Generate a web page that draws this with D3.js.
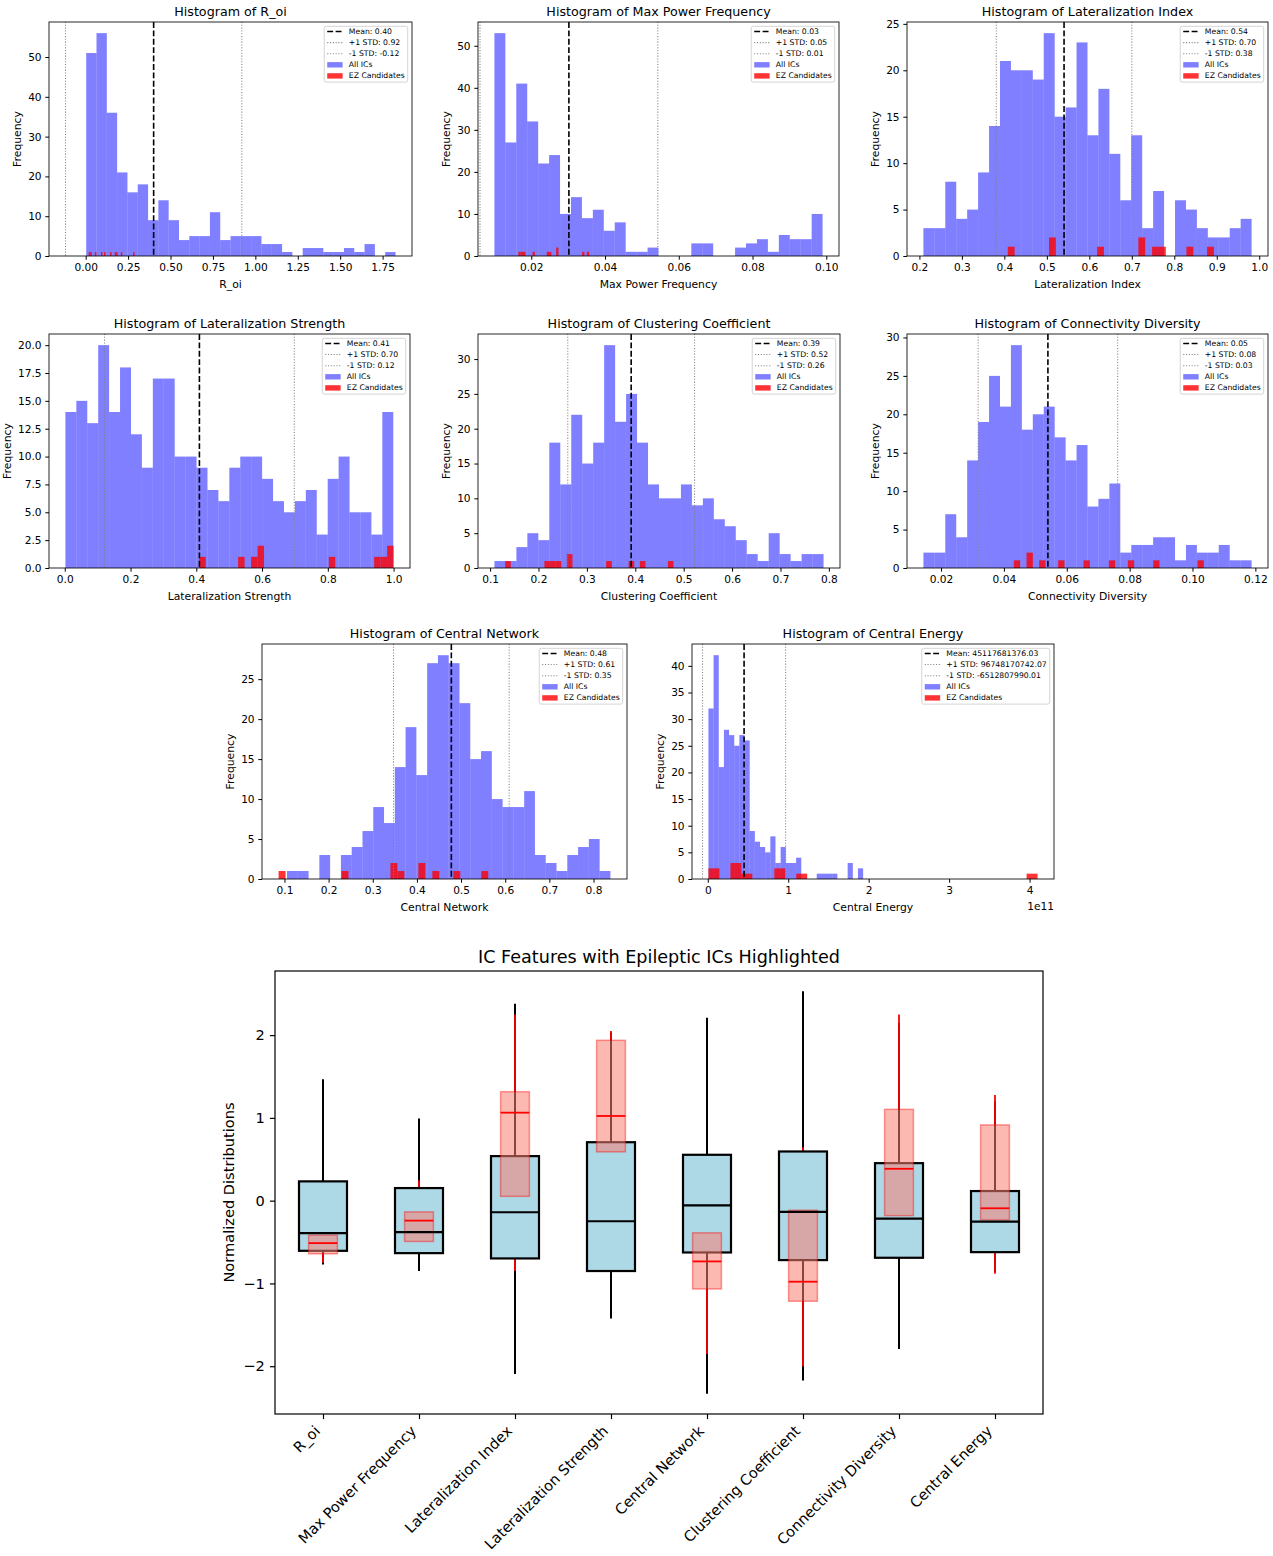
<!DOCTYPE html>
<html>
<head>
<meta charset="utf-8">
<script src="https://d3js.org/d3.v7.min.js"></script>
<style>
body { margin: 0; background: #fff; }
svg text { font-family: "DejaVu Sans", sans-serif; }
</style>
</head>
<body>
<div id="root"></div>
<script>
//DATA - histograms (30 bins over range for all ICs, EZ candidate values binned separately)
const roiRange = [0.003, 1.826];
const roiCounts = [51, 56, 36, 21, 16, 18, 9, 14, 9, 4, 5, 5, 11, 4, 5, 5, 5, 3, 3, 1, 0, 2, 2, 1, 1, 2, 1, 3, 0, 1];
const roiEZ = [0.018, 0.034, 0.054, 0.093, 0.113, 0.152, 0.176, 0.188, 0.215, 0.288];
const roiStats = [0.4005, 0.5195];
const roiXTicks = [0, 0.25, 0.5, 0.75, 1, 1.25, 1.5, 1.75];
const roiYTicks = [0, 10, 20, 30, 40, 50];

const mpfRange = [0.0100, 0.0990];
const mpfCounts = [53, 27, 41, 32, 22, 24, 10, 14, 9, 11, 6, 8, 1, 1, 2, 0, 0, 0, 3, 3, 0, 0, 2, 3, 4, 1, 5, 4, 4, 10];
const mpfEZ = [0.0165, 0.0174, 0.0183, 0.0204, 0.0243, 0.0249, 0.0270, 0.0270, 0.0343, 0.0357];
const mpfStats = [0.0302, 0.0241];
const mpfXTicks = [0.02, 0.04, 0.06, 0.08, 0.10];
const mpfYTicks = [0, 10, 20, 30, 40, 50];

const liRange = [0.2094, 0.982];
const liCounts = [3, 3, 8, 4, 5, 9, 14, 21, 20, 20, 19, 24, 15, 16, 23, 13, 18, 11, 6, 13, 3, 7, 0, 6, 5, 3, 2, 2, 3, 4];
const liEZ = [0.408, 0.5132, 0.5132, 0.6264, 0.7155, 0.7155, 0.7478, 0.764, 0.8287, 0.8933];
const liStats = [0.5405, 0.1595];
const liXTicks = [0.2, 0.3, 0.4, 0.5, 0.6, 0.7, 0.8, 0.9, 1.0];
const liYTicks = [0, 5, 10, 15, 20, 25];

const lsRange = [0.002, 0.999];
const lsCounts = [14, 15, 13, 20, 14, 18, 12, 9, 17, 17, 10, 10, 9, 7, 6, 9, 10, 10, 8, 6, 5, 6, 7, 3, 8, 10, 5, 5, 3, 14];
const lsEZ = [0.409, 0.5371, 0.5765, 0.5962, 0.5962, 0.8130, 0.9469, 0.9667, 0.9864, 1.0];
const lsStats = [0.4095, 0.2885];
const lsXTicks = [0, 0.2, 0.4, 0.6, 0.8, 1.0];
const lsYTicks = [0, 2.5, 5, 7.5, 10, 12.5, 15, 17.5, 20];

const ccRange = [0.109, 0.789];
const ccCounts = [1, 1, 3, 5, 4, 18, 12, 22, 15, 18, 32, 21, 25, 18, 12, 10, 10, 12, 9, 10, 7, 6, 4, 2, 1, 5, 2, 1, 2, 2];
const ccEZ = [0.131, 0.218, 0.2292, 0.2408, 0.264, 0.264, 0.3458, 0.3924, 0.4152, 0.479];
const ccStats = [0.3915, 0.1310];
const ccXTicks = [0.1, 0.2, 0.3, 0.4, 0.5, 0.6, 0.7, 0.8];
const ccYTicks = [0, 5, 10, 15, 20, 25, 30];

const cdRange = [0.01439, 0.1188];
const cdCounts = [2, 2, 7, 4, 14, 19, 25, 21, 29, 18, 20, 21, 17, 14, 16, 8, 9, 11, 2, 3, 3, 4, 4, 1, 3, 2, 2, 3, 1, 1];
const cdEZ = [0.04317, 0.04821, 0.04821, 0.05223, 0.05828, 0.06633, 0.07439, 0.08043, 0.08848, 0.1036];
const cdStats = [0.0540, 0.0222];
const cdXTicks = [0.02, 0.04, 0.06, 0.08, 0.10, 0.12];
const cdYTicks = [0, 5, 10, 15, 20, 25, 30];

const cnRange = [0.1058, 0.8383];
const cnCounts = [1, 1, 0, 3, 0, 3, 4, 6, 9, 7, 14, 19, 13, 27, 28, 27, 22, 15, 16, 10, 9, 9, 11, 3, 2, 1, 3, 4, 5, 1];
const cnEZ = [0.0867, 0.2371, 0.3479, 0.3479, 0.3637, 0.4112, 0.4112, 0.4429, 0.4904, 0.5616];
const cnStats = [0.478, 0.131];
const cnXTicks = [0.1, 0.2, 0.3, 0.4, 0.5, 0.6, 0.7, 0.8];
const cnYTicks = [0, 5, 10, 15, 20, 25];

const ceRange = [8.3e8, 1.931e11];
const ceCounts = [32, 42, 21, 28, 27, 25, 27, 26, 9, 7, 6, 5, 8, 3, 6, 3, 3, 4, 0, 0, 0, 1, 1, 1, 1, 0, 0, 3, 0, 2];
const ceEZ = [8.3e8, 7.65e9, 3.492e10, 3.492e10, 3.492e10, 4.856e10, 8.947e10, 8.947e10, 1.1674e11, 4.099e11];
const ceStats = [45117681376.03, 51630489366.04];
const ceXTicks = [0, 1e11, 2e11, 3e11, 4e11];
const ceYTicks = [0, 5, 10, 15, 20, 25, 30, 35, 40];

//DATA - normalized box plot: [whisker low, q1, median, q3, whisker high]
const boxFeatures = ["R_oi", "Max Power Frequency", "Lateralization Index", "Lateralization Strength",
  "Central Network", "Clustering Coefficient", "Connectivity Diversity", "Central Energy"];
const allBoxStats = [
  [-0.77, -0.606, -0.393, 0.233, 1.468],
  [-0.850, -0.634, -0.381, 0.152, 0.991],
  [-2.094, -0.698, -0.140, 0.538, 2.379],
  [-1.424, -0.850, -0.249, 0.706, 2.03],
  [-2.334, -0.626, -0.056, 0.554, 2.210],
  [-2.174, -0.718, -0.136, 0.594, 2.531],
  [-1.793, -0.690, -0.217, 0.453, 2.15],
  [-0.86, -0.622, -0.253, 0.116, 1.2]
];
const ezBoxStats = [
  [-0.75, -0.642, -0.513, -0.417, -0.41],
  [-0.50, -0.493, -0.241, -0.136, 0.245],
  [-0.85, 0.052, 1.063, 1.316, 2.25],
  [0.03, 0.590, 1.023, 1.937, 2.05],
  [-1.853, -1.067, -0.734, -0.389, 0.55],
  [-2.002, -1.215, -0.979, -0.116, 0.646],
  [-0.49, -0.181, 0.385, 1.103, 2.25],
  [-0.882, -0.233, -0.092, 0.915, 1.276]
];
const boxYTicks = [-2, -1, 0, 1, 2];

//TABLE OF HISTOGRAMS
const f2 = d3.format(".2f"), f1 = d3.format(".1f"), fd = d3.format("d");
const hists = [
  {name: "R_oi", range: roiRange, counts: roiCounts, ez: roiEZ, stats: roiStats, xTicks: roiXTicks, yTicks: roiYTicks, xFmt: f2, yFmt: fd},
  {name: "Max Power Frequency", range: mpfRange, counts: mpfCounts, ez: mpfEZ, stats: mpfStats, xTicks: mpfXTicks, yTicks: mpfYTicks, xFmt: f2, yFmt: fd},
  {name: "Lateralization Index", range: liRange, counts: liCounts, ez: liEZ, stats: liStats, xTicks: liXTicks, yTicks: liYTicks, xFmt: f1, yFmt: fd},
  {name: "Lateralization Strength", range: lsRange, counts: lsCounts, ez: lsEZ, stats: lsStats, xTicks: lsXTicks, yTicks: lsYTicks, xFmt: f1, yFmt: f1},
  {name: "Clustering Coefficient", range: ccRange, counts: ccCounts, ez: ccEZ, stats: ccStats, xTicks: ccXTicks, yTicks: ccYTicks, xFmt: f1, yFmt: fd},
  {name: "Connectivity Diversity", range: cdRange, counts: cdCounts, ez: cdEZ, stats: cdStats, xTicks: cdXTicks, yTicks: cdYTicks, xFmt: f2, yFmt: fd},
  {name: "Central Network", range: cnRange, counts: cnCounts, ez: cnEZ, stats: cnStats, xTicks: cnXTicks, yTicks: cnYTicks, xFmt: f1, yFmt: fd},
  {name: "Central Energy", range: ceRange, counts: ceCounts, ez: ceEZ, stats: ceStats, xTicks: ceXTicks, yTicks: ceYTicks, xFmt: d => fd(d / 1e11), yFmt: fd, offset: "1e11"}
];

//LAYOUT
const panels = [
  {left: 49, top: 22, w: 363, h: 234},
  {left: 478, top: 22, w: 361, h: 234},
  {left: 907, top: 22, w: 361, h: 234},
  {left: 49, top: 334, w: 361, h: 234},
  {left: 478, top: 334, w: 362, h: 234},
  {left: 907, top: 334, w: 361, h: 234},
  {left: 262, top: 644, w: 365, h: 235},
  {left: 692, top: 644, w: 362, h: 235}
];

const svg = d3.select("#root").append("svg")
  .attr("width", 1273).attr("height", 1556);

const pad5 = (a, b) => [a - (b - a) * 0.05, b + (b - a) * 0.05];

function styleAxis(g, size) {
  g.attr("font-family", "DejaVu Sans").attr("font-size", size);
  g.select(".domain").remove();
  g.selectAll(".tick line").attr("stroke", "#000");
  g.selectAll(".tick text").attr("fill", "#000");
}

function drawHist(h, p) {
  const g = svg.append("g").attr("transform", `translate(${p.left},${p.top})`);
  const [lo, hi] = h.range;
  const step = (hi - lo) / h.counts.length;
  const bars = h.counts.map((n, i) => ({x0: lo + i * step, x1: lo + (i + 1) * step, n: n}));
  const ezExt = d3.extent(h.ez);
  const ezStep = (ezExt[1] - ezExt[0]) / 30;
  const ezBins = d3.bin().domain(ezExt)
    .thresholds(d3.range(1, 30).map(i => ezExt[0] + i * ezStep))(h.ez)
    .filter(b => b.length > 0);
  const [mean, std] = h.stats;
  const vlines = [mean, mean + std, mean - std];

  // autoscale like matplotlib: bars with 5% margin, vlines rescale only if outside
  const dLo = Math.min(lo, ezExt[0]), dHi = Math.max(hi, ezExt[1]);
  let xDom = pad5(dLo, dHi);
  if (vlines.some(v => v < xDom[0] || v > xDom[1])) {
    xDom = pad5(Math.min(dLo, ...vlines), Math.max(dHi, ...vlines));
  }
  const x = d3.scaleLinear().domain(xDom).range([0, p.w]);
  const y = d3.scaleLinear().domain([0, d3.max(h.counts) * 1.05]).range([p.h, 0]);

  g.append("defs").append("clipPath").attr("id", "clip" + p.left + "_" + p.top)
    .append("rect").attr("width", p.w).attr("height", p.h);
  const plot = g.append("g").attr("clip-path", `url(#clip${p.left}_${p.top})`);

  plot.selectAll("rect.all").data(bars.filter(b => b.n > 0)).join("rect")
    .attr("class", "all")
    .attr("x", d => x(d.x0)).attr("width", d => x(d.x1) - x(d.x0))
    .attr("y", d => y(d.n)).attr("height", d => p.h - y(d.n))
    .attr("fill", "blue").attr("fill-opacity", 0.5);

  plot.selectAll("rect.ez").data(ezBins).join("rect")
    .attr("class", "ez")
    .attr("x", d => x(d.x0)).attr("width", d => x(d.x1) - x(d.x0))
    .attr("y", d => y(d.length)).attr("height", d => p.h - y(d.length))
    .attr("fill", "red").attr("fill-opacity", 0.8);

  // mean and std lines
  plot.append("line").attr("x1", x(mean)).attr("x2", x(mean)).attr("y1", 0).attr("y2", p.h)
    .attr("stroke", "#000").attr("stroke-width", 1.6).attr("stroke-dasharray", "5.9,2.5");
  [mean + std, mean - std].forEach(v => {
    plot.append("line").attr("x1", x(v)).attr("x2", x(v)).attr("y1", 0).attr("y2", p.h)
      .attr("stroke", "#808080").attr("stroke-width", 1.05).attr("stroke-dasharray", "1.05,1.75");
  });

  // axes
  const xa = g.append("g").attr("transform", `translate(0,${p.h})`)
    .call(d3.axisBottom(x).tickValues(h.xTicks).tickFormat(h.xFmt).tickSize(3.7).tickPadding(3.7));
  styleAxis(xa, 10.6);
  const ya = g.append("g")
    .call(d3.axisLeft(y).tickValues(h.yTicks).tickFormat(h.yFmt).tickSize(3.7).tickPadding(3.7));
  styleAxis(ya, 10.6);
  let maxW = 0;
  ya.selectAll(".tick text").each(function() { maxW = Math.max(maxW, this.getComputedTextLength()); });

  g.append("rect").attr("width", p.w).attr("height", p.h)
    .attr("fill", "none").attr("stroke", "#000").attr("stroke-width", 0.85);

  // labels
  g.append("text").attr("x", p.w / 2).attr("y", -6.5).attr("text-anchor", "middle")
    .attr("font-size", 12.7).text("Histogram of " + h.name);
  g.append("text").attr("x", p.w / 2).attr("y", p.h + 32).attr("text-anchor", "middle")
    .attr("font-size", 10.8).text(h.name);
  const yl = -(7.4 + maxW + 4.2 + 6.3);
  g.append("text").attr("transform", `translate(${yl},${p.h / 2}) rotate(-90)`)
    .attr("text-anchor", "middle").attr("dominant-baseline", "central")
    .attr("font-size", 10.8).text("Frequency");
  if (h.offset) {
    g.append("text").attr("x", p.w).attr("y", p.h + 31).attr("text-anchor", "end")
      .attr("font-size", 10.6).text(h.offset);
  }

  // legend
  const items = [
    {label: `Mean: ${mean.toFixed(2)}`, kind: "dash"},
    {label: `+1 STD: ${(mean + std).toFixed(2)}`, kind: "dot"},
    {label: `-1 STD: ${(mean - std).toFixed(2)}`, kind: "dot"},
    {label: "All ICs", kind: "patch", color: "blue", op: 0.5},
    {label: "EZ Candidates", kind: "patch", color: "red", op: 0.8}
  ];
  const fs = 7.7, handle = 15.4, bp = 3, rowH = 11.1;
  const lg = g.append("g");
  const frame = lg.append("rect");
  let tw = 0;
  items.forEach((it, i) => {
    const cy = 5.2 + i * rowH;
    const t = lg.append("text").attr("x", bp + handle + 6.2).attr("y", cy)
      .attr("dominant-baseline", "central").attr("font-size", fs).text(it.label);
    tw = Math.max(tw, t.node().getComputedTextLength());
    if (it.kind === "patch") {
      lg.append("rect").attr("x", bp).attr("y", cy - 2.7).attr("width", handle).attr("height", 5.4)
        .attr("fill", it.color).attr("fill-opacity", it.op);
    } else {
      lg.append("line").attr("x1", bp).attr("x2", bp + handle).attr("y1", cy).attr("y2", cy)
        .attr("stroke", it.kind === "dash" ? "#000" : "#808080")
        .attr("stroke-width", it.kind === "dash" ? 1.6 : 1.05)
        .attr("stroke-dasharray", it.kind === "dash" ? "5.9,2.5" : "1.05,1.75");
    }
  });
  const bw = bp + handle + 6.2 + tw + bp;
  const bh = 5.2 + 4 * rowH + 6.2;
  frame.attr("width", bw).attr("height", bh).attr("rx", 2)
    .attr("fill", "#fff").attr("fill-opacity", 0.8).attr("stroke", "#ccc").attr("stroke-width", 0.85);
  lg.attr("transform", `translate(${p.w - 4.3 - bw},4.3)`);
}

hists.forEach((h, i) => drawHist(h, panels[i]));

//BOX PLOT
const bp = {left: 275, top: 971, right: 1043, bottom: 1414};
const bx = d3.scaleLinear().domain([0.5, boxFeatures.length + 0.5]).range([bp.left, bp.right]);
const yExt = d3.extent(allBoxStats.flat().concat(ezBoxStats.flat()));
const by = d3.scaleLinear().domain(pad5(yExt[0], yExt[1])).range([bp.bottom, bp.top]);
const boxG = svg.append("g");
const pos = (i) => bx(i + 1);

// whiskers: blue set then red set
allBoxStats.forEach((s, i) => {
  [[s[1], s[0]], [s[3], s[4]]].forEach(([a, b]) => {
    boxG.append("line").attr("x1", pos(i)).attr("x2", pos(i)).attr("y1", by(a)).attr("y2", by(b))
      .attr("stroke", "#000").attr("stroke-width", 2);
  });
});
ezBoxStats.forEach((s, i) => {
  [[s[1], s[0]], [s[3], s[4]]].forEach(([a, b]) => {
    boxG.append("line").attr("x1", pos(i)).attr("x2", pos(i)).attr("y1", by(a)).attr("y2", by(b))
      .attr("stroke", "red").attr("stroke-width", 1.8);
  });
});
// boxes
const bwAll = bx(1.25) - bx(0.75), bwEz = bx(1.15) - bx(0.85);
allBoxStats.forEach((s, i) => {
  boxG.append("rect").attr("x", pos(i) - bwAll / 2).attr("width", bwAll)
    .attr("y", by(s[3])).attr("height", by(s[1]) - by(s[3]))
    .attr("fill", "lightblue").attr("stroke", "#000").attr("stroke-width", 2.2);
});
ezBoxStats.forEach((s, i) => {
  boxG.append("rect").attr("x", pos(i) - bwEz / 2).attr("width", bwEz)
    .attr("y", by(s[3])).attr("height", by(s[1]) - by(s[3]))
    .attr("fill", "salmon").attr("fill-opacity", 0.55)
    .attr("stroke", "red").attr("stroke-opacity", 0.4).attr("stroke-width", 1.5);
});
// medians
allBoxStats.forEach((s, i) => {
  boxG.append("line").attr("x1", pos(i) - bwAll / 2).attr("x2", pos(i) + bwAll / 2)
    .attr("y1", by(s[2])).attr("y2", by(s[2])).attr("stroke", "#000").attr("stroke-width", 2.2);
});
ezBoxStats.forEach((s, i) => {
  boxG.append("line").attr("x1", pos(i) - bwEz / 2).attr("x2", pos(i) + bwEz / 2)
    .attr("y1", by(s[2])).attr("y2", by(s[2])).attr("stroke", "red").attr("stroke-width", 1.8);
});

// axes
const bxa = svg.append("g").attr("transform", `translate(0,${bp.bottom})`)
  .call(d3.axisBottom(bx).tickValues(d3.range(1, boxFeatures.length + 1))
    .tickFormat((d, i) => boxFeatures[i]).tickSize(5.1));
styleAxis(bxa, 14.6);
bxa.selectAll(".tick line").attr("stroke-width", 1.2);
bxa.selectAll(".tick text").attr("x", 0).attr("y", 0).attr("dy", null)
  .attr("text-anchor", "end").attr("transform", "translate(-2.5,18) rotate(-45)");

const bya = svg.append("g").attr("transform", `translate(${bp.left},0)`)
  .call(d3.axisLeft(by).tickValues(boxYTicks).tickFormat(d3.format("d")).tickSize(5.1).tickPadding(5.1));
styleAxis(bya, 14.6);
bya.selectAll(".tick line").attr("stroke-width", 1.2);

svg.append("rect").attr("x", bp.left).attr("y", bp.top)
  .attr("width", bp.right - bp.left).attr("height", bp.bottom - bp.top)
  .attr("fill", "none").attr("stroke", "#000").attr("stroke-width", 1.2);

svg.append("text").attr("x", (bp.left + bp.right) / 2).attr("y", 963).attr("text-anchor", "middle")
  .attr("font-size", 17.6).text("IC Features with Epileptic ICs Highlighted");
svg.append("text").attr("transform", `translate(228,${(bp.top + bp.bottom) / 2}) rotate(-90)`)
  .attr("text-anchor", "middle").attr("dominant-baseline", "central")
  .attr("font-size", 14.6).text("Normalized Distributions");
</script>
</body>
</html>
